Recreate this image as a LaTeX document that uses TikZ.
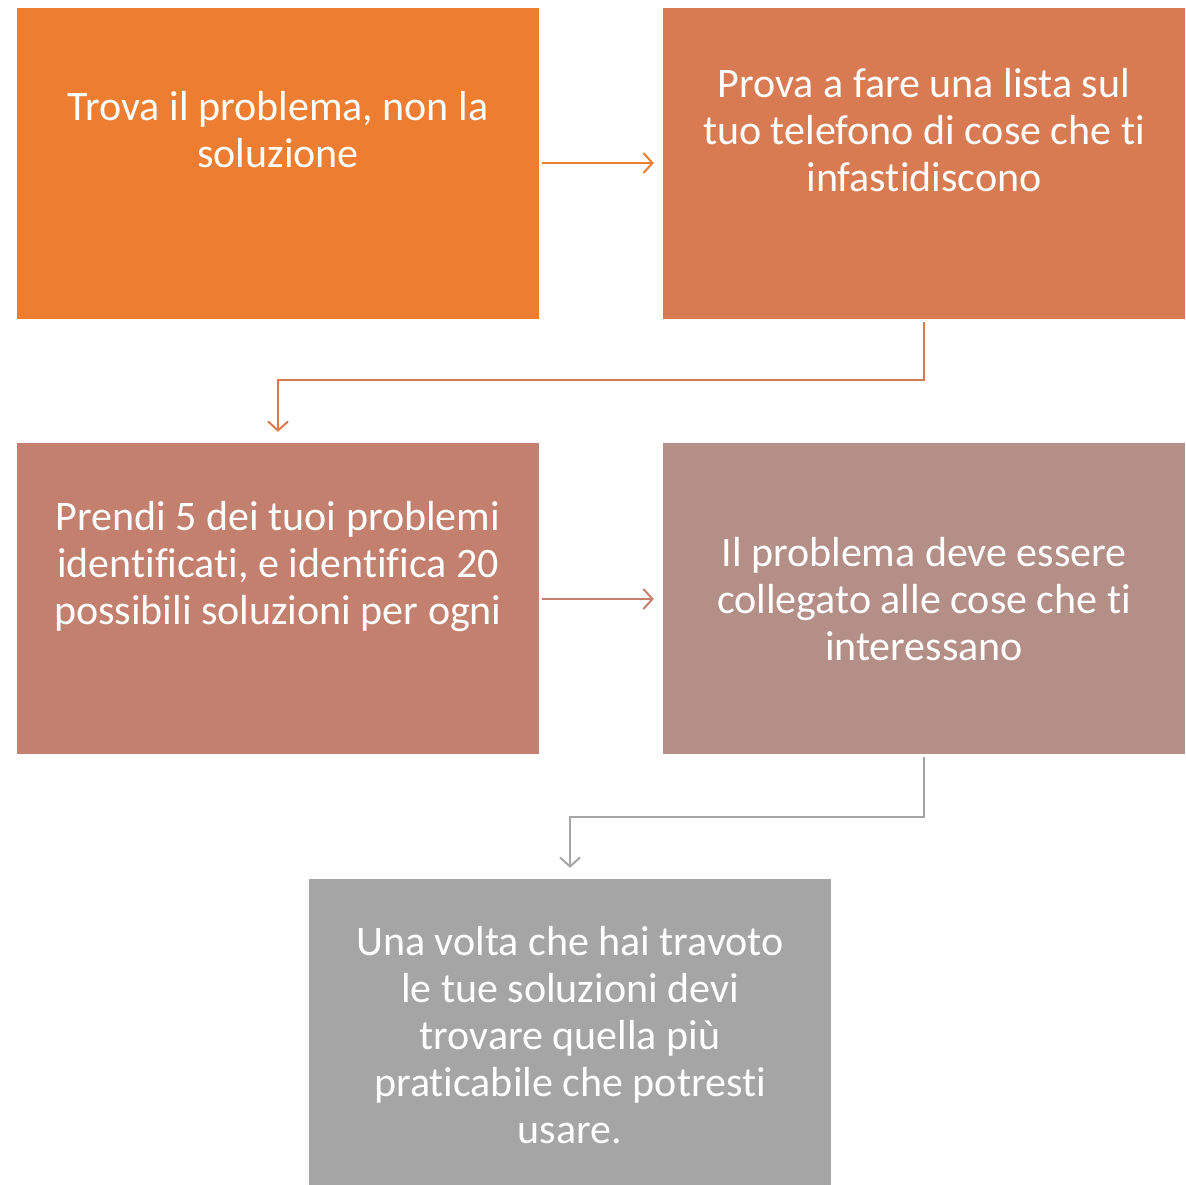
\documentclass[tikz,border=0pt]{standalone}
\usepackage{fontspec}
\setmainfont{Carlito}[Ligatures=NoCommon]
\usetikzlibrary{arrows.meta}
\definecolor{cA}{HTML}{ED7D31}
\definecolor{cB}{HTML}{D87B52}
\definecolor{cC}{HTML}{C4806E}
\definecolor{cD}{HTML}{B48F88}
\definecolor{cE}{HTML}{A5A5A5}
\begin{document}
\begin{tikzpicture}[x=1pt,y=-1pt,
  boxst/.style={draw=none,minimum width=522pt,minimum height=311pt,inner sep=0pt},
  txt/.style={text=white,align=center,font=\fontsize{42}{47}\selectfont,inner sep=0pt},
  conn/.style={line width=2pt,-{Straight Barb[length=9pt,width=20pt,line width=2pt]}}]
\useasboundingbox (0,0) rectangle (1186,1185);
\node[boxst,fill=cA] (b1) at (278,163.5) {};
\node[boxst,fill=cB] (b2) at (924,163.5) {};
\node[boxst,fill=cC] (b3) at (278,598.5) {};
\node[boxst,fill=cD] (b4) at (924,598.5) {};
\node[boxst,fill=cE,minimum height=306pt] (b5) at (570,1032) {};
\node[txt] (t1) at (278,130) {Trova il problema, non la\\soluzione};
\node[txt] (t2) at (924,130) {Prova a fare una lista sul\\tuo telefono di cose che ti\\infastidiscono};
\node[txt] (t3) at (278,567) {Prendi 5 dei tuoi problemi\\identificati, e identifica 20\\possibili soluzioni per ogni};
\node[txt] (t4) at (924,599) {Il problema deve essere\\collegato alle cose che ti\\interessano};
\node[txt] (t5) at (570,1035) {Una volta che hai travoto\\le tue soluzioni devi\\trovare quella più\\praticabile che potresti\\usare.};
\coordinate (e1a) at (924,380);
\coordinate (e1b) at (278,380);
\coordinate (e2a) at (924,817);
\coordinate (e2b) at (570,817);
\draw[conn,cA,shorten <=3pt,shorten >=9pt] (b1.east |- 0,163) -- (b2.west |- 0,163);
\draw[conn,cB,shorten <=3pt,shorten >=11pt] (b2.south) -- (e1a) -- (e1b) -- (b3.north);
\draw[conn,cC,shorten <=3pt,shorten >=9pt] (b3.east |- 0,599) -- (b4.west |- 0,599);
\draw[conn,cE,shorten <=3pt,shorten >=11pt] (b4.south) -- (e2a) -- (e2b) -- (b5.north);
\end{tikzpicture}
\end{document}
